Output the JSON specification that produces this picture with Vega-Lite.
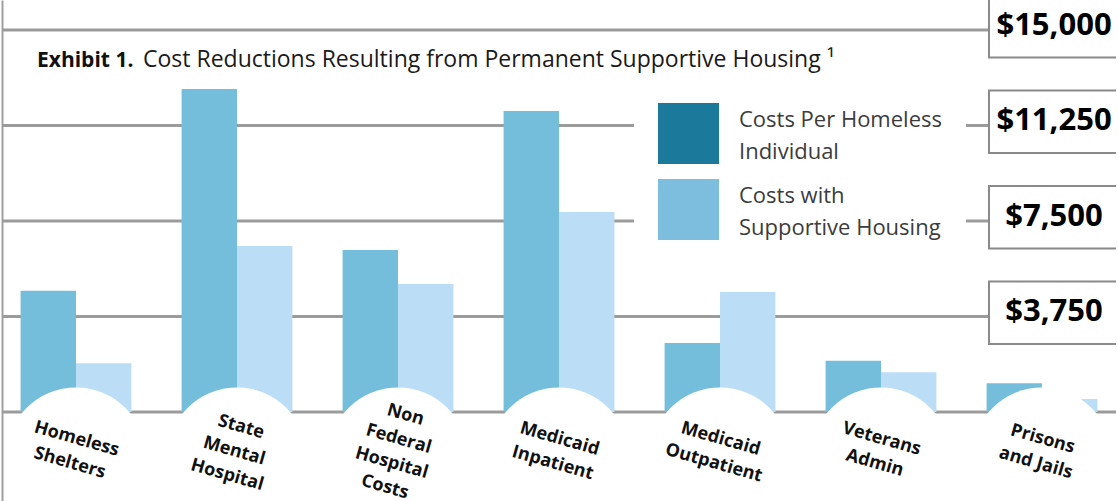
{
  "$schema": "https://vega.github.io/schema/vega-lite/v6.json",
  "width": 1118,
  "height": 501,
  "autosize": {"type": "fit", "contains": "padding"},
  "padding": 0,
  "background": "white",
  "config": {"view": {"stroke": null}},
  "datasets": {
    "bars": [
      {"category": "Homeless Shelters", "series": "Costs Per Homeless Individual", "cost": 4763},
      {"category": "Homeless Shelters", "series": "Costs with Supportive Housing", "cost": 1912},
      {"category": "State Mental Hospital", "series": "Costs Per Homeless Individual", "cost": 12682},
      {"category": "State Mental Hospital", "series": "Costs with Supportive Housing", "cost": 6518},
      {"category": "Non Federal Hospital Costs", "series": "Costs Per Homeless Individual", "cost": 6360},
      {"category": "Non Federal Hospital Costs", "series": "Costs with Supportive Housing", "cost": 5026},
      {"category": "Medicaid Inpatient", "series": "Costs Per Homeless Individual", "cost": 11818},
      {"category": "Medicaid Inpatient", "series": "Costs with Supportive Housing", "cost": 7852},
      {"category": "Medicaid Outpatient", "series": "Costs Per Homeless Individual", "cost": 2709},
      {"category": "Medicaid Outpatient", "series": "Costs with Supportive Housing", "cost": 4711},
      {"category": "Veterans Admin", "series": "Costs Per Homeless Individual", "cost": 2014},
      {"category": "Veterans Admin", "series": "Costs with Supportive Housing", "cost": 1559},
      {"category": "Prisons and Jails", "series": "Costs Per Homeless Individual", "cost": 1127},
      {"category": "Prisons and Jails", "series": "Costs with Supportive Housing", "cost": 510}
    ],
    "cats": [
      {"category": "Homeless Shelters", "label": "Homeless\nShelters"},
      {"category": "State Mental Hospital", "label": "State\nMental\nHospital"},
      {"category": "Non Federal Hospital Costs", "label": "Non\nFederal\nHospital\nCosts"},
      {"category": "Medicaid Inpatient", "label": "Medicaid\nInpatient"},
      {"category": "Medicaid Outpatient", "label": "Medicaid\nOutpatient"},
      {"category": "Veterans Admin", "label": "Veterans\nAdmin"},
      {"category": "Prisons and Jails", "label": "Prisons\nand Jails"}
    ],
    "ticks": [
      {"v": 0, "label": ""},
      {"v": 3750, "label": "$3,750"},
      {"v": 7500, "label": "$7,500"},
      {"v": 11250, "label": "$11,250"},
      {"v": 15000, "label": "$15,000"}
    ]
  },
  "layer": [
    {
      "data": {"name": "ticks"},
      "mark": {"type": "rule", "stroke": "#9b9b9b", "strokeWidth": 3},
      "encoding": {
        "y": {
          "field": "v", "type": "quantitative",
          "scale": {"domain": [-3494, 16176], "nice": false, "zero": false},
          "axis": {"title": null, "labels": false, "ticks": false, "grid": false, "domain": true, "domainColor": "#a0a0a0", "domainWidth": 2}
        }
      }
    },
    {
      "data": {"name": "bars"},
      "mark": {"type": "bar"},
      "encoding": {
        "x": {
          "field": "category", "type": "nominal",
          "scale": {"domain": ["Homeless Shelters", "State Mental Hospital", "Non Federal Hospital Costs", "Medicaid Inpatient", "Medicaid Outpatient", "Veterans Admin", "Prisons and Jails"], "paddingInner": 0.3118, "paddingOuter": 0.1155},
          "axis": null
        },
        "xOffset": {"field": "series", "type": "nominal", "scale": {"domain": ["Costs Per Homeless Individual", "Costs with Supportive Housing"]}},
        "y": {"field": "cost", "type": "quantitative", "scale": {"domain": [-3494, 16176], "nice": false, "zero": false}},
        "color": {
          "field": "series", "type": "nominal",
          "scale": {"domain": ["Costs Per Homeless Individual", "Costs with Supportive Housing"], "range": ["#74BEDB", "#BBDDF6"]},
          "legend": null
        }
      }
    },
    {
      "data": {"name": "cats"},
      "mark": {"type": "point", "shape": "circle", "filled": true, "fill": "white", "opacity": 1, "strokeWidth": 0, "size": 19600, "clip": true},
      "encoding": {
        "x": {
          "field": "category", "type": "nominal",
          "scale": {"domain": ["Homeless Shelters", "State Mental Hospital", "Non Federal Hospital Costs", "Medicaid Inpatient", "Medicaid Outpatient", "Veterans Admin", "Prisons and Jails"], "paddingInner": 0.3118, "paddingOuter": 0.1155},
          "axis": null
        },
        "y": {"datum": -1786, "type": "quantitative", "scale": {"domain": [-3494, 16176], "nice": false, "zero": false}}
      }
    },
    {
      "data": {"name": "cats"},
      "transform": [{"filter": "length(split(datum.label, '\\n')) == 2"}],
      "mark": {"type": "text", "lineBreak": "\n", "angle": 16, "font": "Open Sans", "fontWeight": "bold", "fontSize": 18, "lineHeight": 25, "align": "center", "baseline": "middle", "dx": -3, "dy": -12.5, "color": "#111111", "clip": true},
      "encoding": {
        "x": {
          "field": "category", "type": "nominal",
          "scale": {"domain": ["Homeless Shelters", "State Mental Hospital", "Non Federal Hospital Costs", "Medicaid Inpatient", "Medicaid Outpatient", "Veterans Admin", "Prisons and Jails"], "paddingInner": 0.3118, "paddingOuter": 0.1155},
          "axis": null
        },
        "y": {"datum": -1570, "type": "quantitative", "scale": {"domain": [-3494, 16176], "nice": false, "zero": false}},
        "text": {"field": "label", "type": "nominal"}
      }
    },
    {
      "data": {"name": "cats"},
      "transform": [{"filter": "length(split(datum.label, '\\n')) == 3"}],
      "mark": {"type": "text", "lineBreak": "\n", "angle": 16, "font": "Open Sans", "fontWeight": "bold", "fontSize": 18, "lineHeight": 25, "align": "center", "baseline": "middle", "dx": -3, "dy": -25, "color": "#111111", "clip": true},
      "encoding": {
        "x": {
          "field": "category", "type": "nominal",
          "scale": {"domain": ["Homeless Shelters", "State Mental Hospital", "Non Federal Hospital Costs", "Medicaid Inpatient", "Medicaid Outpatient", "Veterans Admin", "Prisons and Jails"], "paddingInner": 0.3118, "paddingOuter": 0.1155},
          "axis": null
        },
        "y": {"datum": -1570, "type": "quantitative", "scale": {"domain": [-3494, 16176], "nice": false, "zero": false}},
        "text": {"field": "label", "type": "nominal"}
      }
    },
    {
      "data": {"name": "cats"},
      "transform": [{"filter": "length(split(datum.label, '\\n')) == 4"}],
      "mark": {"type": "text", "lineBreak": "\n", "angle": 16, "font": "Open Sans", "fontWeight": "bold", "fontSize": 18, "lineHeight": 25, "align": "center", "baseline": "middle", "dx": -3, "dy": -37.5, "color": "#111111", "clip": true},
      "encoding": {
        "x": {
          "field": "category", "type": "nominal",
          "scale": {"domain": ["Homeless Shelters", "State Mental Hospital", "Non Federal Hospital Costs", "Medicaid Inpatient", "Medicaid Outpatient", "Veterans Admin", "Prisons and Jails"], "paddingInner": 0.3118, "paddingOuter": 0.1155},
          "axis": null
        },
        "y": {"datum": -1570, "type": "quantitative", "scale": {"domain": [-3494, 16176], "nice": false, "zero": false}},
        "text": {"field": "label", "type": "nominal"}
      }
    },
    {
      "data": {"name": "ticks"},
      "transform": [{"filter": "datum.v > 0"}],
      "mark": {"type": "point", "shape": "M-0.757,-0.5H1.2V0.393H-0.757Z", "filled": true, "fill": "white", "opacity": 1, "stroke": "#8a8a8a", "strokeWidth": 2, "size": 19600, "clip": true},
      "encoding": {
        "x": {
          "datum": "Prisons and Jails", "type": "nominal",
          "scale": {"domain": ["Homeless Shelters", "State Mental Hospital", "Non Federal Hospital Costs", "Medicaid Inpatient", "Medicaid Outpatient", "Veterans Admin", "Prisons and Jails"], "paddingInner": 0.3118, "paddingOuter": 0.1155},
          "axis": null
        },
        "y": {"field": "v", "type": "quantitative", "scale": {"domain": [-3494, 16176], "nice": false, "zero": false}}
      }
    },
    {
      "data": {"name": "ticks"},
      "transform": [{"filter": "datum.v > 0"}],
      "mark": {"type": "text", "font": "Open Sans", "fontWeight": "bold", "fontSize": 31, "align": "center", "baseline": "middle", "dx": 12, "dy": -4, "color": "#000000", "clip": true},
      "encoding": {
        "x": {
          "datum": "Prisons and Jails", "type": "nominal",
          "scale": {"domain": ["Homeless Shelters", "State Mental Hospital", "Non Federal Hospital Costs", "Medicaid Inpatient", "Medicaid Outpatient", "Veterans Admin", "Prisons and Jails"], "paddingInner": 0.3118, "paddingOuter": 0.1155},
          "axis": null
        },
        "y": {"field": "v", "type": "quantitative", "scale": {"domain": [-3494, 16176], "nice": false, "zero": false}},
        "text": {"field": "label", "type": "nominal"}
      }
    },
    {
      "data": {"values": [{"t": "Exhibit 1."}]},
      "mark": {"type": "text", "font": "Open Sans", "fontWeight": "bold", "fontSize": 21, "align": "left", "baseline": "alphabetic", "dx": -39, "color": "#111111"},
      "encoding": {
        "x": {
          "datum": "Homeless Shelters", "type": "nominal",
          "scale": {"domain": ["Homeless Shelters", "State Mental Hospital", "Non Federal Hospital Costs", "Medicaid Inpatient", "Medicaid Outpatient", "Veterans Admin", "Prisons and Jails"], "paddingInner": 0.3118, "paddingOuter": 0.1155},
          "axis": null
        },
        "y": {"datum": 13545, "type": "quantitative", "scale": {"domain": [-3494, 16176], "nice": false, "zero": false}},
        "text": {"field": "t", "type": "nominal"}
      }
    },
    {
      "data": {"values": [{"t": "Cost Reductions Resulting from Permanent Supportive Housing ¹"}]},
      "mark": {"type": "text", "font": "Open Sans", "fontSize": 23, "align": "left", "baseline": "alphabetic", "dx": 67, "color": "#1a1a1a"},
      "encoding": {
        "x": {
          "datum": "Homeless Shelters", "type": "nominal",
          "scale": {"domain": ["Homeless Shelters", "State Mental Hospital", "Non Federal Hospital Costs", "Medicaid Inpatient", "Medicaid Outpatient", "Veterans Admin", "Prisons and Jails"], "paddingInner": 0.3118, "paddingOuter": 0.1155},
          "axis": null
        },
        "y": {"datum": 13545, "type": "quantitative", "scale": {"domain": [-3494, 16176], "nice": false, "zero": false}},
        "text": {"field": "t", "type": "nominal"}
      }
    },
    {
      "data": {"name": "bars"},
      "transform": [{"filter": "false"}],
      "mark": {"type": "point", "shape": "square", "filled": true, "opacity": 1},
      "encoding": {
        "color": {
          "field": "series", "type": "nominal",
          "scale": {"domain": ["Costs Per Homeless Individual", "Costs with Supportive Housing"], "range": ["#1B7A9C", "#7DBDDE"]},
          "legend": {
            "orient": "none", "legendX": 632, "legendY": 79, "title": null,
            "padding": 24, "fillColor": "white", "strokeColor": null,
            "symbolType": "square", "symbolSize": 3721, "symbolOpacity": 1, "symbolStrokeWidth": 0,
            "labelFont": "Open Sans", "labelFontSize": 22, "labelColor": "#3c3c3c", "labelOffset": 20, "labelLimit": 400,
            "rowPadding": 15,
            "labelExpr": "datum.value == 'Costs Per Homeless Individual' ? ['Costs Per Homeless', 'Individual'] : ['Costs with', 'Supportive Housing']",
            "encode": {"labels": {"update": {"lineHeight": {"value": 32}, "dy": {"value": -14}}}}
          }
        }
      }
    }
  ],
  "resolve": {"scale": {"color": "independent"}}
}
